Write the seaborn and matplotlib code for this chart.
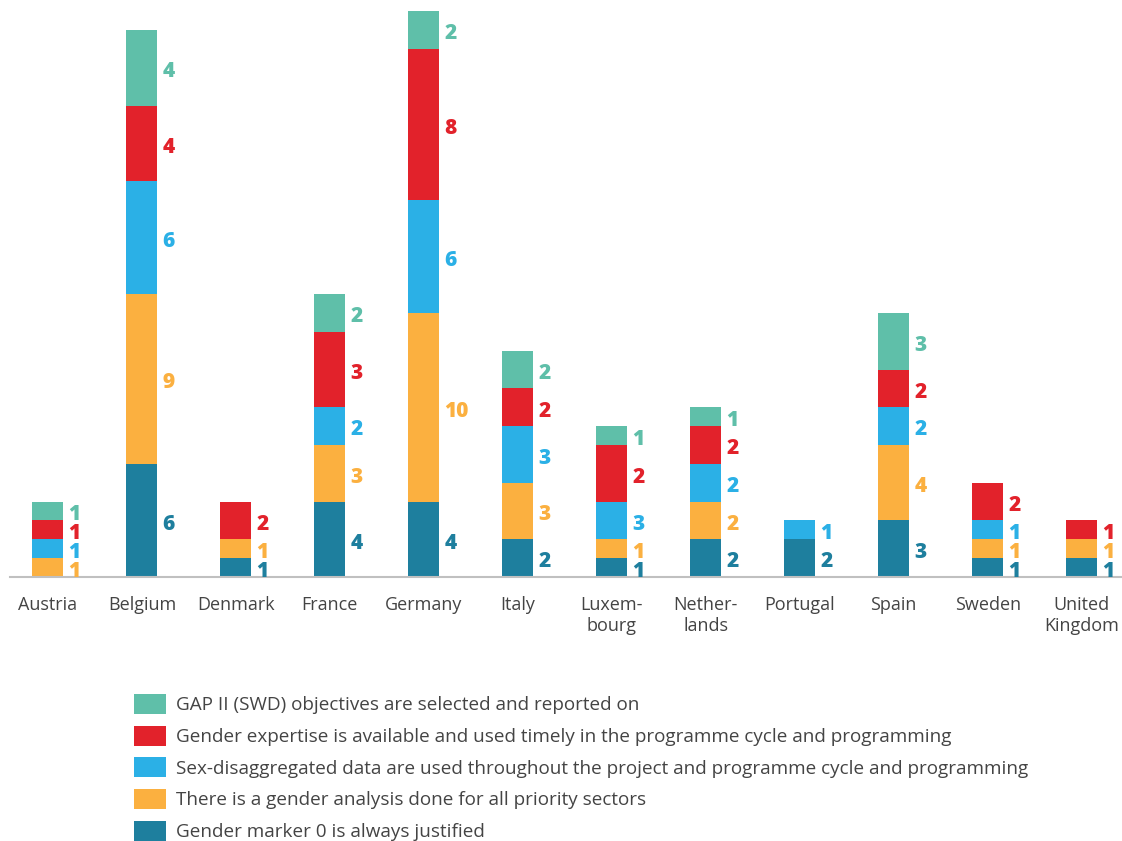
import numpy as np
import pandas as pd
import seaborn as sns
import matplotlib.pyplot as plt
from matplotlib.patches import Patch

# Countries on the x axis
countries = ["Austria", "Belgium", "Denmark", "France", "Germany", "Italy",
             "Luxembourg", "Netherlands", "Portugal", "Spain", "Sweden", "United Kingdom"]
tick_labels = ["Austria", "Belgium", "Denmark", "France", "Germany", "Italy",
               "Luxem-\nbourg", "Nether-\nlands", "Portugal", "Spain", "Sweden", "United\nKingdom"]

# Segment heights, bottom to top
marker = [0, 6, 1, 4, 4, 2, 1, 2, 2, 3, 1, 1]
analysis = [1, 9, 1, 3, 10, 3, 1, 2, 0, 4, 1, 1]
sexdata = [1, 6, 0, 2, 6, 3, 2, 2, 1, 2, 1, 0]
expertise = [1, 4, 2, 4, 8, 2, 3, 2, 0, 2, 2, 1]
gap = [1, 4, 0, 2, 2, 2, 1, 1, 0, 3, 0, 0]

# Numbers printed next to the segments (as in the source chart)
marker_lbl = [0, 6, 1, 4, 4, 2, 1, 2, 2, 3, 1, 1]
analysis_lbl = [1, 9, 1, 3, 10, 3, 1, 2, 0, 4, 1, 1]
sexdata_lbl = [1, 6, 0, 2, 6, 3, 3, 2, 1, 2, 1, 0]
expertise_lbl = [1, 4, 2, 3, 8, 2, 2, 2, 0, 2, 2, 1]
gap_lbl = [1, 4, 0, 2, 2, 2, 1, 1, 0, 3, 0, 0]

series_names = [
    "Gender marker 0 is always justified",
    "There is a gender analysis done for all priority sectors",
    "Sex-disaggregated data are used throughout the project and programme cycle and programming",
    "Gender expertise is available and used timely in the programme cycle and programming",
    "GAP II (SWD) objectives are selected and reported on",
]
colors = ["#1e7f9e", "#fbb040", "#2bb0e6", "#e2222b", "#5fbfa9"]

heights = [marker, analysis, sexdata, expertise, gap]
labels = [marker_lbl, analysis_lbl, sexdata_lbl, expertise_lbl, gap_lbl]

sns.set_style("white")
plt.rcParams["font.family"] = ["Open Sans", "DejaVu Sans"]

fig = plt.figure(figsize=(11.22, 8.41), dpi=100)
ax = fig.add_axes([10 / 1122, (841 - 577) / 841, 1112 / 1122, 577 / 841])

# cumulative tops, drawn tallest first so lower layers sit on top
cum = np.cumsum(np.array(heights), axis=0)
bar_w = 31 / 94
for i in reversed(range(len(heights))):
    df = pd.DataFrame({"country": countries, "top": cum[i]})
    sns.barplot(data=df, x="country", y="top", color=colors[i], width=bar_w,
                saturation=1, ax=ax, linewidth=0)

# value labels to the right of each segment
for i in range(len(heights)):
    for j in range(len(countries)):
        h = heights[i][j]
        if h == 0:
            continue
        mid = cum[i][j] - h / 2
        ax.text(j + bar_w / 2 + 0.055, mid - 0.2, str(labels[i][j]), color=colors[i],
                fontsize=15, fontweight="heavy", ha="left", va="center")

ax.set_xlim(-0.404, 11.43)
ax.set_ylim(0, 30.6)
ax.set_xlabel("")
ax.set_ylabel("")
ax.set_yticks([])
ax.set_xticks(range(len(countries)))
ax.set_xticklabels(tick_labels, fontsize=13, color="#444444", linespacing=1.15)
ax.tick_params(axis="x", length=0, pad=14)
for side in ["top", "left", "right"]:
    ax.spines[side].set_visible(False)
ax.spines["bottom"].set_color("#c0c0c0")
ax.spines["bottom"].set_linewidth(1.5)

handles = [Patch(facecolor=colors[i], edgecolor="none", label=series_names[i])
           for i in reversed(range(len(series_names)))]
fig.legend(handles=handles, loc="upper left", bbox_to_anchor=(117 / 1122, 1 - 677 / 841),
           frameon=False, fontsize=13.6, handlelength=1.7, handleheight=1.25,
           labelspacing=0.6, handletextpad=0.53, labelcolor="#444444")

fig.savefig("out.png", dpi=100)
